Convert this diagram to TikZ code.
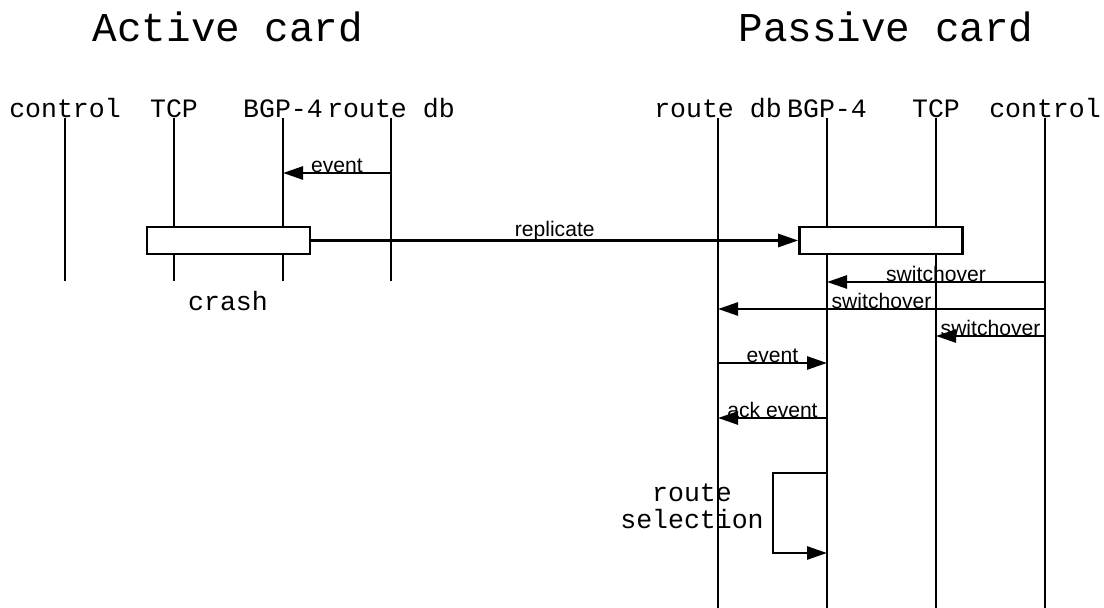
\documentclass[tikz,border=0pt]{standalone}
\usepackage{fontspec}
\newfontfamily\courierfont{Liberation Mono}
\newfontfamily\arialfont{Liberation Sans}
\usetikzlibrary{arrows.meta,positioning}
\tikzset{every picture/.style={line width=1.5pt}}
\tikzset{
  cardtitle/.style={font=\courierfont\fontsize{23.3}{28}\selectfont},
  lifename/.style={font=\courierfont\fontsize{15.1}{15.3}\selectfont, anchor=base, inner sep=0pt},
  note/.style={font=\courierfont\fontsize{15.1}{15.3}\selectfont, align=center, inner sep=0pt},
  msg/.style={-{Triangle[length=0.4cm,width=0.26cm]}},
  msglabel/.style={font=\arialfont\fontsize{12}{14}\selectfont, above, inner sep=0pt, yshift=-0.8pt},
  cardbox/.style={draw, fill=white, minimum width=3.26cm, minimum height=0.54cm, inner sep=0pt},
}

\begin{document}
\begin{tikzpicture}[scale=1.0]
    \useasboundingbox (0,0) rectangle (22.08,-12.16);

    % card titles
    \node[cardtitle] (activeT) at (4.56,-0.54) {Active card};
    \node[cardtitle] (passiveT) at (17.72,-0.54) {Passive card};

    % lifeline names
    \node[lifename] (ctlA) at (1.30,-2.36) {control};
    \node[lifename] (tcpA) at (3.48,-2.36) {TCP};
    \node[lifename] (bgpA) at (5.66,-2.36) {BGP-4};
    \node[lifename] (rdbA) at (7.82,-2.36) {route db};
    \node[lifename] (rdbP) at (14.36,-2.36) {route db};
    \node[lifename] (bgpP) at (16.54,-2.36) {BGP-4};
    \node[lifename] (tcpP) at (18.72,-2.36) {TCP};
    \node[lifename] (ctlP) at (20.90,-2.36) {control};

    % lifelines
    \coordinate (endA) at (0,-5.62);
    \coordinate (endP) at (0,-12.16);
    \foreach \n in {ctlA,tcpA,bgpA,rdbA}
        \draw (\n.base) -- (\n |- endA);
    \foreach \n in {rdbP,bgpP,tcpP,ctlP}
        \draw (\n.base) -- (\n |- endP);

    % message rows
    \coordinate (t1) at (0,-3.46);
    \coordinate (t2) at (0,-5.64);
    \coordinate (t3) at (0,-6.18);
    \coordinate (t4) at (0,-6.72);
    \coordinate (t5) at (0,-7.26);
    \coordinate (t6) at (0,-8.36);
    \coordinate (t7) at (0,-9.46);
    \coordinate (t8) at (0,-11.06);
    \coordinate (loopL) at (15.46,0);

    % active card
    \draw[msg] (rdbA |- t1) -- node[msglabel] {event} (bgpA |- t1);
    \node[cardbox] (boxA) at (4.57,-4.81) {};
    \node[note] (crash) at (4.56,-6.02) {crash};

    % replication to the passive card
    \node[cardbox] (boxP) at (17.62,-4.81) {};
    \draw[msg] (boxA.east) -- node[msglabel] {replicate} (boxP.west);

    % switchover
    \draw[msg] (ctlP |- t2) -- node[msglabel] {switchover} (bgpP |- t2);
    \draw[msg] (ctlP |- t3) -- node[msglabel] {switchover} (rdbP |- t3);
    \draw[msg] (ctlP |- t4) -- node[msglabel] {switchover} (tcpP |- t4);

    % events on the passive card
    \draw[msg] (rdbP |- t5) -- node[msglabel] {event} (bgpP |- t5);
    \draw[msg] (bgpP |- t6) -- node[msglabel] {ack event} (rdbP |- t6);

    % route selection
    \draw[msg] (bgpP |- t7) -- (loopL |- t7) -- (loopL |- t8) -- (bgpP |- t8);
    \node[note, anchor=east] (rsel) at (15.30,-10.12) {route\\selection};
\end{tikzpicture}
\end{document}
